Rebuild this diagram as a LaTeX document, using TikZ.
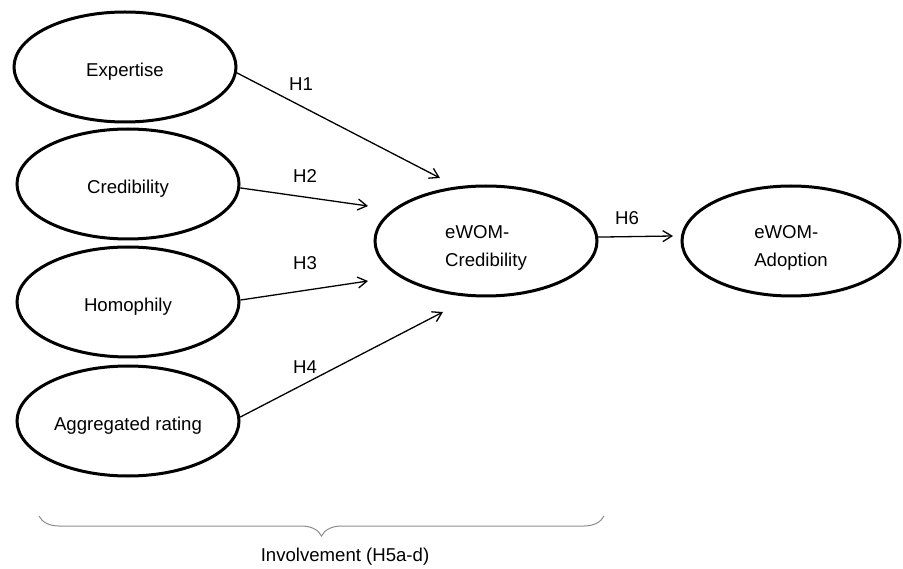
\documentclass[tikz,border=0pt]{standalone}
\usepackage{fontspec}
\setmainfont{Liberation Sans}
\usetikzlibrary{arrows.meta,decorations.pathreplacing,shapes.geometric}
\begin{document}
\begin{tikzpicture}[x=1pt,y=1pt,
  construct/.style={ellipse,draw=black,line width=3pt,inner sep=0pt,
    minimum width=222pt,minimum height=110pt,align=left,
    text height=19.4pt,text depth=0pt,
    font=\fontsize{18.6}{28}\selectfont},
  twoline/.style={text height=51.4pt,text depth=0pt},
  hyp/.style={line width=1.3pt,-{Straight Barb[length=9pt,width=11pt,line width=1.3pt]}},
  hlabel/.style={inner sep=0pt,font=\fontsize{18.6}{22}\selectfont}]
\useasboundingbox (0,0) rectangle (903,-569);
% constructs
\node[construct] (exp) at (125,-67) {Expertise};
\node[construct] (cred) at (128,-184) {Credibility};
\node[construct] (hom) at (128,-302) {Homophily};
\node[construct] (agg) at (128,-421) {Aggregated rating};
\node[construct,twoline] (ewc) at (486,-241) {eWOM-\\Credibility};
\node[construct,twoline,minimum width=218pt] (ewa) at (791,-241) {eWOM-\\Adoption};
% free arrow ends
\coordinate (h1end) at (440,-178);
\coordinate (h2end) at (368,-206);
\coordinate (h3end) at (368,-281);
\coordinate (h4end) at (443,-312);
\coordinate (h6end) at (673,-236);
% connectors
\draw[hyp] (exp.-3) -- (h1end);
\draw[hyp] (cred.-2) -- (h2end);
\draw[hyp] (hom.1) -- (h3end);
\draw[hyp] (agg.2) -- (h4end);
\draw[hyp] (ewc.2.6) -- (h6end);
% labels
\node[hlabel] (l1) at (301,-84) {H1};
\node[hlabel] (l2) at (305,-176) {H2};
\node[hlabel] (l3) at (305,-263) {H3};
\node[hlabel] (l4) at (305,-367) {H4};
\node[hlabel] (l6) at (627,-218) {H6};
% brace
\coordinate (bl) at (39,-516);
\coordinate (br) at (604,-516);
\draw[black!45,line width=1pt,decorate,decoration={brace,amplitude=20pt,mirror}] (bl) -- (br);
\node[hlabel] (inv) at (345,-557) {Involvement (H5a-d)};
\end{tikzpicture}
\end{document}
